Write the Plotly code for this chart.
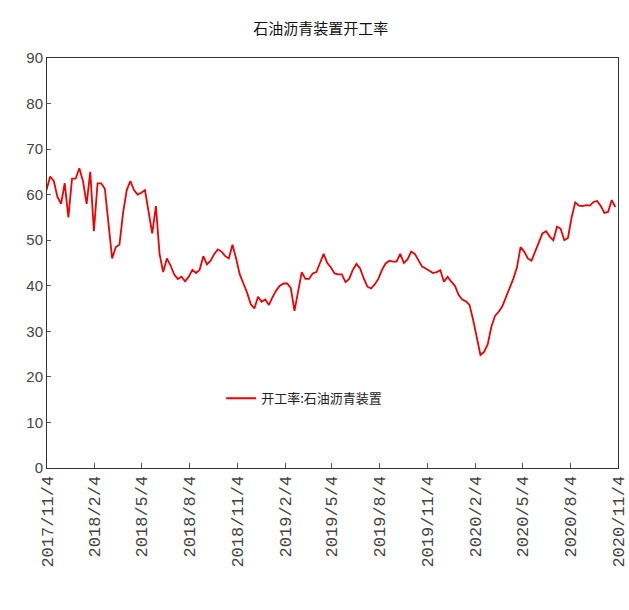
import datetime as dt
import plotly.graph_objects as go

start_date = "2017-11-03"
values = [
    61, 64, 63, 59.5, 58, 62.5, 55, 63.5, 63.5, 65.8,
    63, 58, 65, 52, 62.5, 62.5, 61.3, 54, 46, 48.5,
    49, 56, 61, 63, 61, 60, 60.4, 61, 56, 51.5,
    57.5, 47, 43, 46, 44.5, 42.5, 41.5, 42, 41, 42,
    43.5, 42.8, 43.5, 46.5, 44.7, 45.5, 47, 48, 47.5, 46.5,
    46, 49, 46, 42.5, 40.5, 38.5, 36, 35, 37.6, 36.5,
    37, 35.8, 37.5, 39, 40, 40.5, 40.5, 39.5, 34.5, 38.5,
    43, 41.5, 41.5, 42.7, 43, 45, 47, 45, 44, 42.7,
    42.5, 42.5, 40.8, 41.5, 43.5, 44.8, 43.8, 41.6, 39.8, 39.4,
    40.3, 41.5, 43.5, 44.9, 45.5, 45.3, 45.3, 47, 45, 45.8,
    47.5, 47, 45.5, 44.2, 43.8, 43.2, 42.8, 43, 43.4, 40.9,
    42, 40.9, 40, 38, 37, 36.6, 35.8, 32.5, 28.5, 24.8,
    25.5, 27.2, 31, 33.4, 34.3, 35.5, 37.5, 39.5, 41.5, 44,
    48.5, 47.5, 46, 45.5, 47.5, 49.5, 51.5, 52, 50.8, 50,
    53, 52.5, 50, 50.5, 55, 58.3, 57.6, 57.5, 57.7, 57.6,
    58.4, 58.6, 57.5, 56, 56.2, 58.8, 57.3,
]
tick_dates = ["2017-11-04", "2018-02-04", "2018-05-04", "2018-08-04", "2018-11-04",
              "2019-02-04", "2019-05-04", "2019-08-04", "2019-11-04", "2020-02-04",
              "2020-05-04", "2020-08-04", "2020-11-04"]
tick_labels = ["2017/11/4", "2018/2/4", "2018/5/4", "2018/8/4", "2018/11/4",
               "2019/2/4", "2019/5/4", "2019/8/4", "2019/11/4", "2020/2/4",
               "2020/5/4", "2020/8/4", "2020/11/4"]
y_ticks = [0, 10, 20, 30, 40, 50, 60, 70, 80, 90]
title_text = "石油沥青装置开工率"
series_name = "开工率:石油沥青装置"

d0 = dt.date.fromisoformat(start_date)
dates = [d0 + dt.timedelta(days=7 * i) for i in range(len(values))]

fig = go.Figure()
fig.add_trace(go.Scatter(
    x=dates, y=values, mode="lines", name=series_name,
    line=dict(color="#f00000", width=1.8),
))

fig.update_layout(
    width=629, height=610,
    margin=dict(l=47, r=11, t=58, b=142),
    paper_bgcolor="white", plot_bgcolor="white",
    title=dict(text=title_text, x=0.51, xanchor="center", y=0.962, yanchor="top",
               font=dict(family="Noto Sans CJK SC", size=15, color="#111")),
    showlegend=True,
    legend=dict(x=0.305, y=0.17, xanchor="left", yanchor="middle",
                bgcolor="rgba(0,0,0,0)",
                font=dict(family="Noto Sans CJK SC", size=13, color="#222")),
    xaxis=dict(
        type="date", range=["2017-11-03 23:00", "2020-11-04 01:00"],
        tickmode="array", tickvals=tick_dates, ticktext=tick_labels,
        tickangle=-90, ticks="inside", ticklen=5, tickcolor="#555",
        ticklabeloverflow="allow", automargin=False,
        showline=True, linecolor="#333", linewidth=1, mirror=True,
        showgrid=False, zeroline=False,
        tickfont=dict(family="Liberation Mono", size=17, color="#444"),
    ),
    yaxis=dict(
        range=[0, 90], tickmode="array", tickvals=y_ticks,
        ticks="inside", ticklen=4, tickcolor="#555", automargin=False,
        showline=True, linecolor="#333", linewidth=1, mirror=True,
        showgrid=False, zeroline=False,
        tickfont=dict(family="Liberation Sans Narrow, Liberation Sans", size=15, color="#444"),
    ),
)

fig.write_html("out.html")
